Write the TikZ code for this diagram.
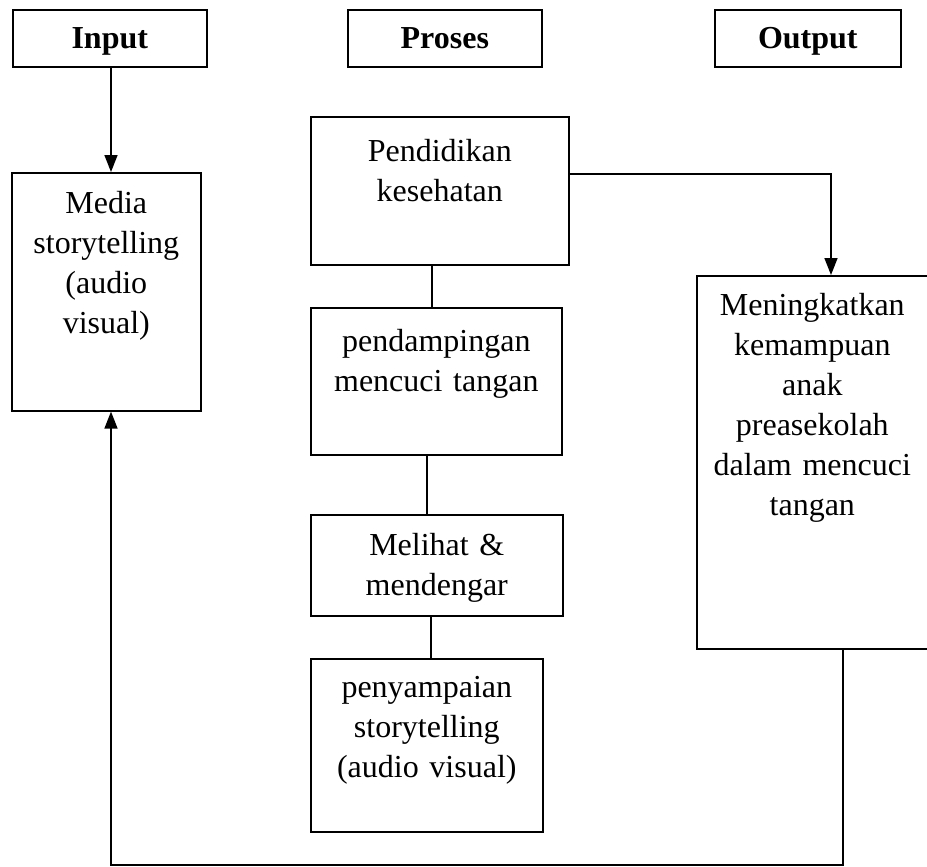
\documentclass[tikz,border=0pt]{standalone}
\usepackage{fontspec}
\setmainfont{Liberation Serif}
\usetikzlibrary{arrows.meta}

\tikzset{
  judul/.style={draw, line width=1.6pt, inner sep=0pt, anchor=north west,
    minimum height=57pt, text height=25pt, text depth=4pt,
    font=\fontsize{32pt}{40pt}\selectfont\bfseries},
  kotak/.style={draw, line width=1.6pt, inner sep=0pt, anchor=north west, align=center},
  garis/.style={line width=1.6pt},
  panah/.style={line width=1.6pt, -{Triangle[length=17pt,width=13pt]}}
}

\begin{document}
\begin{tikzpicture}[x=1pt, y=-1pt, font=\fontsize{32pt}{40pt}\selectfont]
        \useasboundingbox (0,0) rectangle (927,867);

        % judul kolom
        \node[judul, minimum width=194pt] (input) at (12,9) {Input};
        \node[judul, minimum width=194pt] (proses) at (347,9) {Proses};
        \node[judul, minimum width=186pt] (output) at (714,9) {Output};

        % input
        \node[kotak, text width=189pt, text height=41pt, text depth=197pt] (media) at (11,172)
            {Media\\storytelling\\(audio\\visual)};

        % proses
        \node[kotak, text width=258pt, text height=45pt, text depth=103pt] (pendidikan) at (310,116)
            {Pendidikan\\kesehatan};
        \node[kotak, text width=251pt, text height=44pt, text depth=103pt] (pendampingan) at (310,307)
            {pendampingan\\mencuci tangan};
        \node[kotak, text width=252pt, text height=41pt, text depth=60pt] (melihat) at (310,514)
            {Melihat \&\\mendengar};
        \node[kotak, text width=232pt, text height=39pt, text depth=134pt] (penyampaian) at (310,658)
            {penyampaian\\storytelling\\(audio visual)};

        % output
        \node[kotak, text width=231pt, text height=40pt, text depth=333pt] (hasil) at (696,275)
            {Meningkatkan\\kemampuan\\anak\\preasekolah\\dalam mencuci\\tangan};

        % titik bantu
        \coordinate (kiri) at (111,865);
        \coordinate (kanan) at (843,865);
        \coordinate (belok) at (831,174);
        \coordinate (k1) at (432,0);
        \coordinate (k2) at (427,0);
        \coordinate (k3) at (431,0);

        % panah
        \draw[panah] (input.south -| kiri) -- (media.north -| kiri);
        \draw[panah] (pendidikan.east |- belok) -- (belok) -- (hasil.north -| belok);
        \draw[panah] (hasil.south -| kanan) -- (kanan) -- (kiri) -- (media.south -| kiri);

        \draw[garis] (pendidikan.south -| k1) -- (pendampingan.north -| k1);
        \draw[garis] (pendampingan.south -| k2) -- (melihat.north -| k2);
        \draw[garis] (melihat.south -| k3) -- (penyampaian.north -| k3);

    \end{tikzpicture}
\end{document}
